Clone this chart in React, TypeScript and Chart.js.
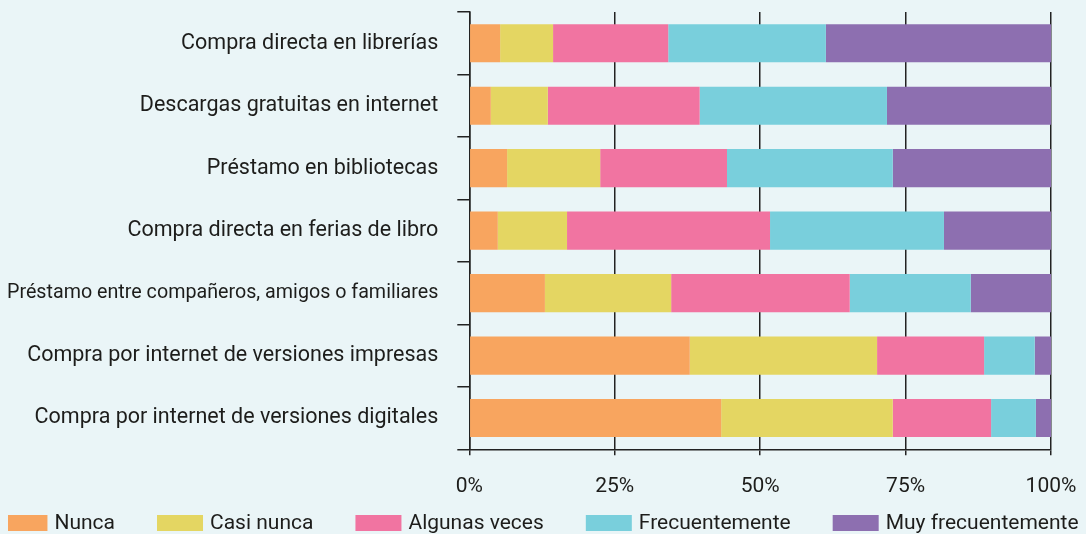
import React, { useEffect, useRef } from "react";
import { Chart, registerables } from "chart.js";

Chart.register(...registerables);

const categories = [
  "Compra directa en librerías",
  "Descargas gratuitas en internet",
  "Préstamo en bibliotecas",
  "Compra directa en ferias de libro",
  "Préstamo entre compañeros, amigos o familiares",
  "Compra por internet de versiones impresas",
  "Compra por internet de versiones digitales",
];

const seriesLabels = ["Nunca", "Casi nunca", "Algunas veces", "Frecuentemente", "Muy frecuentemente"];

const nunca = [5.3, 3.7, 6.5, 4.9, 13.0, 37.9, 43.3];
const casiNunca = [9.1, 9.8, 16.0, 11.9, 21.7, 32.2, 29.5];
const algunasVeces = [19.8, 26.1, 21.8, 34.9, 30.7, 18.4, 16.9];
const frecuentemente = [27.1, 32.2, 28.5, 29.9, 20.8, 8.7, 7.7];
const muyFrecuentemente = [38.7, 28.2, 27.2, 18.4, 13.8, 2.8, 2.6];

const seriesColors = ["#F8A55F", "#E4D662", "#F174A1", "#79CFDC", "#8D6FB0"];

const xTickValues = [0, 25, 50, 75, 100];

const BG = "#EAF5F7";
const INK = "#1d1d1b";
const FONT = "Roboto";

const bottomLegend = {
  id: "bottomLegend",
  afterDraw(chart: any) {
    const ctx = chart.ctx as CanvasRenderingContext2D;
    const boxW = 46;
    const boxH = 16;
    const textGap = 7;
    const itemGap = 42;
    const cy = chart.height - 11;
    const centerX = 532;
    ctx.save();
    ctx.font = `21px ${FONT}`;
    ctx.textBaseline = "middle";
    ctx.textAlign = "left";
    const items = chart.data.datasets.map((ds: any) => ({
      label: ds.label as string,
      color: ds.backgroundColor as string,
      w: ctx.measureText(ds.label).width,
    }));
    const total =
      items.reduce((s: number, it: any) => s + boxW + textGap + it.w, 0) + itemGap * (items.length - 1);
    let x = centerX - total / 2;
    for (const it of items) {
      ctx.fillStyle = it.color;
      ctx.fillRect(x, cy - boxH / 2, boxW, boxH);
      ctx.fillStyle = INK;
      ctx.fillText(it.label, x + boxW + textGap, cy + 1);
      x += boxW + textGap + it.w + itemGap;
    }
    ctx.restore();
  },
};

const zeroPad = (scale: any) => {
  scale.paddingTop = 0;
  scale.paddingBottom = 0;
  scale.paddingLeft = 0;
  scale.paddingRight = 0;
};

export default function App() {
  const canvasRef = useRef<HTMLCanvasElement | null>(null);

  useEffect(() => {
    if (!canvasRef.current) return;
    Chart.defaults.font.family = FONT;
    Chart.defaults.font.size = 21;
    Chart.defaults.color = INK;
    const values = [nunca, casiNunca, algunasVeces, frecuentemente, muyFrecuentemente];
    const chart = new Chart(canvasRef.current, {
      type: "bar",
      data: {
        labels: categories,
        datasets: seriesLabels.map((label, i) => ({
          label,
          data: values[i],
          backgroundColor: seriesColors[i],
          borderWidth: 0,
          barPercentage: 0.61,
          categoryPercentage: 1,
        })),
      },
      options: {
        indexAxis: "y",
        animation: false,
        responsive: true,
        maintainAspectRatio: false,
        layout: { padding: { left: 0, right: 35, top: 12, bottom: 32.7 } },
        plugins: {
          legend: { display: false },
          tooltip: { enabled: false },
        },
        scales: {
          x: {
            stacked: true,
            min: 0,
            max: 100,
            afterBuildTicks: (scale: any) => {
              scale.ticks = xTickValues.map((v) => ({ value: v }));
            },
            afterFit: (scale: any) => {
              scale.height = 52;
              zeroPad(scale);
            },
            ticks: {
              padding: 18.5,
              color: INK,
              font: { size: 21, family: FONT },
              callback: (v: any) => `${v}%`,
            },
            grid: {
              color: "#222",
              lineWidth: 1.5,
              tickLength: 6,
              drawOnChartArea: true,
            },
            border: { display: true, color: "#222", width: 1.5 },
          },
          y: {
            stacked: true,
            afterFit: (scale: any) => {
              scale.width = 461.3;
              zeroPad(scale);
            },
            ticks: {
              padding: 19,
              color: INK,
              font: (c: any) => ({ size: c.index === 4 ? 19.7 : 21.5, family: FONT }),
            },
            grid: {
              offset: true,
              drawOnChartArea: false,
              drawTicks: true,
              tickLength: 12,
              color: "#222",
              lineWidth: 1.5,
            },
            border: { display: true, color: "#222", width: 1.5 },
          },
        },
      },
      plugins: [bottomLegend],
    });
    return () => chart.destroy();
  }, []);

  return (
    <div style={{ position: "fixed", left: 0, top: 0, width: 1086, height: 534, background: BG, overflow: "hidden" }}>
      <div style={{ position: "absolute", left: 8, top: 0, width: 1078, height: 534 }}>
        <canvas ref={canvasRef} />
      </div>
    </div>
  );
}
